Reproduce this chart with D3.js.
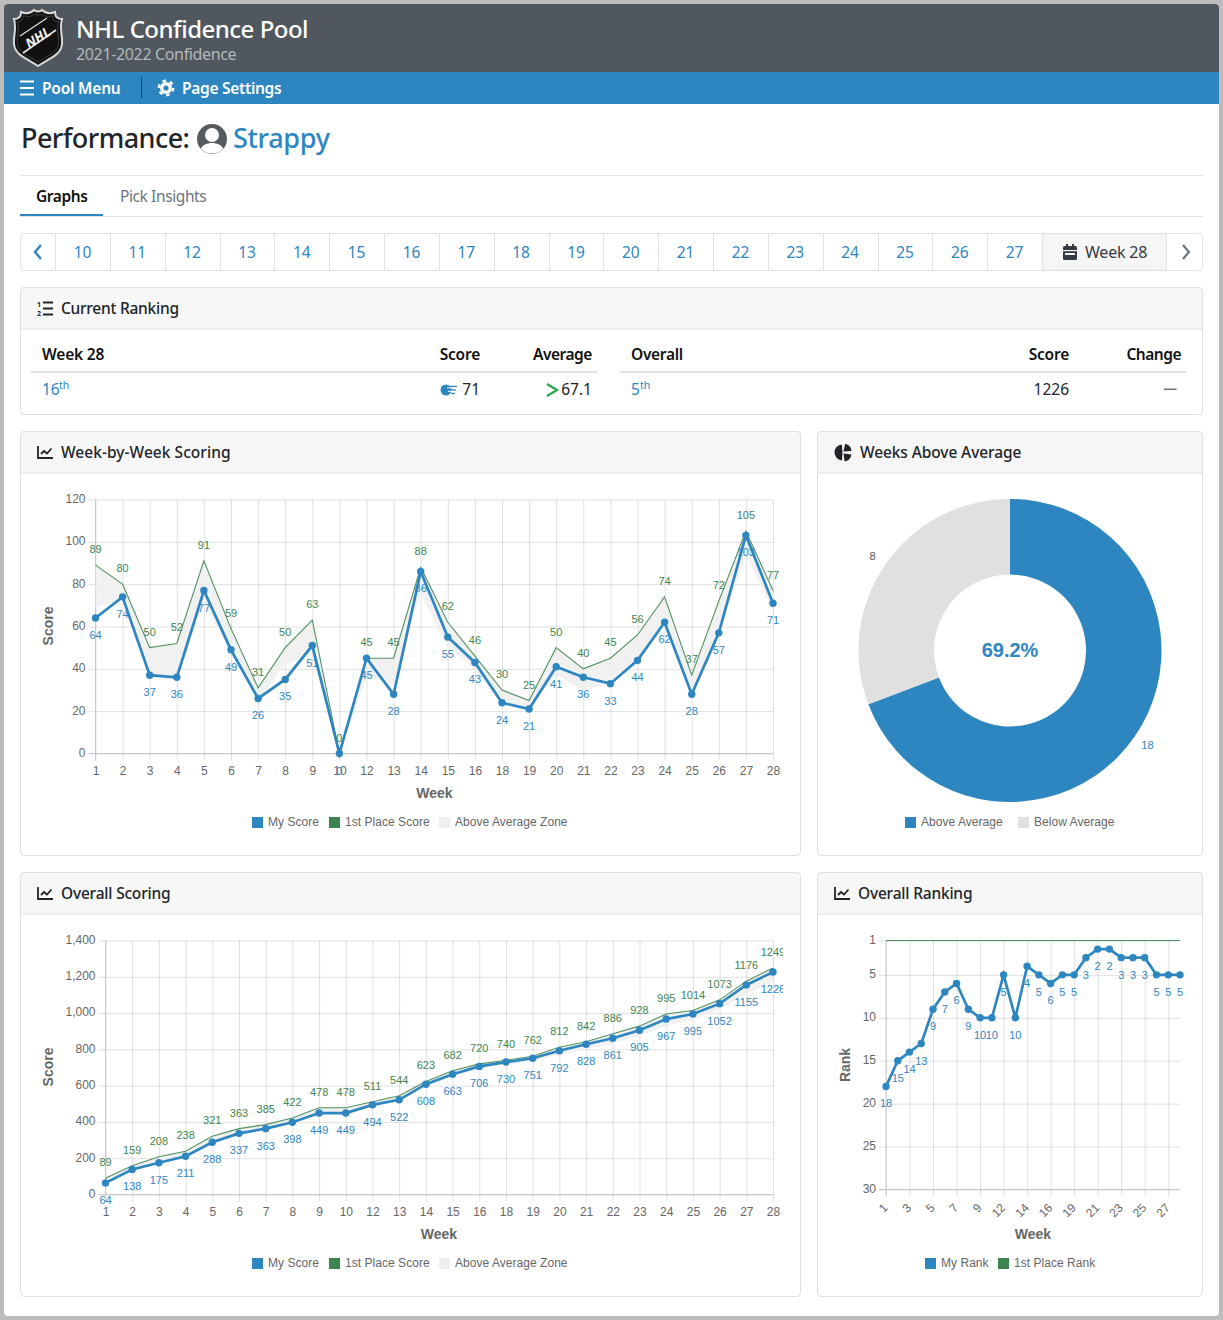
<!DOCTYPE html>
<html>
<head>
<meta charset="utf-8">
<title>NHL Confidence Pool</title>
<script src="https://cdn.jsdelivr.net/npm/d3@7"></script>
<style>
html, body { margin: 0; padding: 0; background: #bcbcbc; }
svg { display: block; }
text { font-family: "Noto Sans", sans-serif; }
.chart text { font-family: "Liberation Sans", Arial, sans-serif; }
.tick text { fill: #666; font-size: 12px; }
.tick line { stroke: #000; stroke-opacity: 0.12; }
</style>
</head>
<body>
<svg id="page" width="1223" height="1320"></svg>
<script>
var weeks = [1,2,3,4,5,6,7,8,9,10,12,13,14,15,16,18,19,20,21,22,23,24,25,26,27,28];

var myScore = [64,74,37,36,77,49,26,35,51,0,45,28,86,55,43,24,21,41,36,33,44,62,28,57,103,71];
var firstScore = [89,80,50,52,91,59,31,50,63,0,45,45,88,62,46,30,25,50,40,45,56,74,37,72,105,77];
var avgScore = [69,73,36,35,71,48,25,42,47,0,36,33,76,50,40,25,21,37,30,33,43,60,27,56,94,67.1];

var myTotal = [64,138,175,211,288,337,363,398,449,449,494,522,608,663,706,730,751,792,828,861,905,967,995,1052,1155,1226];
var firstTotal = [89,159,208,238,321,363,385,422,478,478,511,544,623,682,720,740,762,812,842,886,928,995,1014,1073,1176,1249];
var avgTotal = [69,136,172,207,281,332,357,396,446,446,482,515,597,650,692,718,738,768,800,832,875,930,962,1020,1105,1173];

var myRank = [18,15,14,13,9,7,6,9,10,10,5,10,4,5,6,5,5,3,2,2,3,3,3,5,5,5];
var firstRank = [1,1,1,1,1,1,1,1,1,1,1,1,1,1,1,1,1,1,1,1,1,1,1,1,1,1];

var aboveBelow = [18, 8];
var aboveBelowNames = ["Above Average", "Below Average"];

var pageWeeks = [10,11,12,13,14,15,16,17,18,19,20,21,22,23,24,25,26,27];

var scoreTicks = [0,20,40,60,80,100,120];
var totalTicks = [0,200,400,600,800,1000,1200,1400];
var rankTicks = [1,5,10,15,20,25,30];

var BLUE = "#2e86c1", GREEN = "#3d8550", ZONE = "#efefef", PIEGREY = "#e0e0e0", DARK = "#212529";
var BORDER = "#dfdfdf";

var svg = d3.select("#page");

function txt(x, y, s, size, color, weight, anchor, spacing) {
    return svg.append("text")
        .attr("x", x).attr("y", y)
        .attr("font-size", size)
        .attr("fill", color || DARK)
        .attr("font-weight", weight || 400)
        .attr("text-anchor", anchor || "start")
        .attr("letter-spacing", spacing || 0)
        .text(s);
}
function box(x, y, w, h, fill, stroke, r) {
    return svg.append("rect")
        .attr("x", x + 0.5).attr("y", y + 0.5)
        .attr("width", w - 1).attr("height", h - 1)
        .attr("fill", fill || "none")
        .attr("stroke", stroke || "none")
        .attr("rx", r || 0);
}
function hline(x1, x2, y, color, w) {
    svg.append("line").attr("x1", x1).attr("x2", x2).attr("y1", y).attr("y2", y)
        .attr("stroke", color).attr("stroke-width", w || 1);
}

// page background and top bars
svg.append("rect").attr("x", 4).attr("y", 4).attr("width", 1215).attr("height", 1312).attr("rx", 4).attr("fill", "#fff");
svg.append("path").attr("d", "M4 72V8a4 4 0 0 1 4-4H1215a4 4 0 0 1 4 4V72Z").attr("fill", "#50575e");
svg.append("rect").attr("x", 4).attr("y", 72).attr("width", 1215).attr("height", 32).attr("fill", BLUE);

// shield logo
var shield = svg.append("g").attr("transform", "translate(38,38)");
var shieldPath = "M-17 -26C-12 -24 -7 -25 -4 -28C-2 -26 2 -26 4 -28C7 -25 12 -24 17 -26C17 -21 19 -19 24 -19C21 -8 25 -2 24 6C23 17 12 20 0 28C-12 20 -23 17 -24 6C-25 -2 -21 -8 -24 -19C-19 -19 -17 -21 -17 -26Z";
shield.append("path").attr("d", shieldPath).attr("fill", "#111").attr("stroke", "#d8d8d8").attr("stroke-width", 2);
shield.append("path").attr("d", shieldPath).attr("fill", "none").attr("stroke", "#555").attr("stroke-width", 0.8).attr("transform", "scale(0.86)");
shield.append("line").attr("x1", -15).attr("y1", 15).attr("x2", 18).attr("y2", -8).attr("stroke", "#e4e4e4").attr("stroke-width", 1.6);
shield.append("line").attr("x1", -18).attr("y1", -2).attr("x2", 9).attr("y2", -20).attr("stroke", "#e4e4e4").attr("stroke-width", 1.2);
shield.append("text").attr("transform", "rotate(-33)").attr("text-anchor", "middle").attr("y", 4.5)
    .attr("font-size", 13.5).attr("font-weight", 700).attr("font-style", "italic").attr("fill", "#f2f2f2").text("NHL");

txt(76, 38, "NHL Confidence Pool", 24, "#fff", 500, "start", -0.5);
txt(76, 60, "2021-2022 Confidence", 16, "#b4b7ba", 400, "start", -0.35);

// nav bar
[81.5, 88, 94.5].forEach(function(y) {
    svg.append("rect").attr("x", 20).attr("y", y - 1).attr("width", 14).attr("height", 2).attr("fill", "#fff");
});
txt(42, 94, "Pool Menu", 15.5, "#fff", 600, "start", -0.2);
svg.append("line").attr("x1", 141.5).attr("x2", 141.5).attr("y1", 77).attr("y2", 98).attr("stroke", "#243f52");
svg.append("circle").attr("cx", 166).attr("cy", 88).attr("r", 6).attr("fill", "#fff");
svg.append("circle").attr("cx", 166).attr("cy", 88).attr("r", 7.2).attr("fill", "none").attr("stroke", "#fff").attr("stroke-width", 2.4).attr("stroke-dasharray", "3.6 3.94");
svg.append("circle").attr("cx", 166).attr("cy", 88).attr("r", 2.6).attr("fill", BLUE);
txt(182, 94, "Page Settings", 15.5, "#fff", 600, "start", -0.3);

// page title
txt(21, 148, "Performance:", 27, DARK, 500, "start", -0.55);
svg.append("circle").attr("cx", 212).attr("cy", 139).attr("r", 15).attr("fill", "#575a5e");
svg.append("circle").attr("cx", 212).attr("cy", 135).attr("r", 7).attr("fill", "#fff");
svg.append("path").attr("d", "M201 149C203 141 221 141 223 149C217 155 207 155 201 149Z").attr("fill", "#fff");
txt(233, 148, "Strappy", 27, BLUE, 500, "start", -0.3);
hline(20, 1203, 175.5, "#e3e5e8");

// tabs
txt(36, 202, "Graphs", 15.5, "#111", 600, "start", -0.4);
txt(120, 202, "Pick Insights", 15.5, "#6c757d", 400, "start", -0.4);
hline(20, 1203, 216.5, "#dee2e6");
svg.append("rect").attr("x", 20).attr("y", 214).attr("width", 83).attr("height", 2).attr("fill", BLUE);

// week pager
box(20, 233, 1183, 38, "#fff", "#dee2e6", 4);
svg.append("polyline").attr("points", "41,245 35,252 41,259").attr("fill", "none").attr("stroke", BLUE).attr("stroke-width", 2.4);
var pageX = d3.scaleLinear().domain([0, pageWeeks.length]).range([55, 1042]);
pageWeeks.forEach(function(w, i) {
    svg.append("line").attr("x1", Math.round(pageX(i)) + 0.5).attr("x2", Math.round(pageX(i)) + 0.5).attr("y1", 233).attr("y2", 271).attr("stroke", "#dee2e6");
    txt(pageX(i + 0.5), 258, w, 15.5, BLUE, 400, "middle", -0.1);
});
box(1042, 233.5, 125, 37, "#f6f6f7", "#dee2e6");
svg.append("rect").attr("x", 1063).attr("y", 246).attr("width", 14).attr("height", 14).attr("rx", 1.5).attr("fill", "#343a40");
svg.append("rect").attr("x", 1066).attr("y", 244).attr("width", 2).attr("height", 3).attr("fill", "#343a40");
svg.append("rect").attr("x", 1072).attr("y", 244).attr("width", 2).attr("height", 3).attr("fill", "#343a40");
svg.append("rect").attr("x", 1063).attr("y", 250).attr("width", 14).attr("height", 1.2).attr("fill", "#f6f6f7");
svg.append("rect").attr("x", 1065).attr("y", 253).attr("width", 10).attr("height", 2).attr("fill", "#f6f6f7");
txt(1085, 258, "Week 28", 16, "#343a40", 400, "start", -0.2);
svg.append("polyline").attr("points", "1183,245 1189,252 1183,259").attr("fill", "none").attr("stroke", "#6c757d").attr("stroke-width", 2.2);

function card(x, y, w, h, title, titleX, spacing) {
    box(x, y, w, h, "#fff", BORDER, 4);
    svg.append("path").attr("d", "M" + (x + 0.5) + " " + (y + 42) + "V" + (y + 4) + "a3.5 3.5 0 0 1 3.5 -3.5H" + (x + w - 4) + "a3.5 3.5 0 0 1 3.5 3.5V" + (y + 42) + "Z")
        .attr("fill", "#f7f7f7").attr("stroke", BORDER);
    txt(titleX, y + 27, title, 15.5, DARK, 500, "start", spacing);
}
function lineIcon(x, y) {
    svg.append("path").attr("d", "M" + x + " " + y + "v12h15").attr("fill", "none").attr("stroke", DARK).attr("stroke-width", 1.8);
    svg.append("path").attr("d", "M" + (x + 3) + " " + (y + 8) + "l3 -3l3 2.5l4.5 -5").attr("fill", "none").attr("stroke", DARK).attr("stroke-width", 1.8);
}

// current ranking card
card(20, 287, 1183, 128, "Current Ranking", 61, -0.25);
[302.5, 308.5, 314.5].forEach(function(y) {
    svg.append("rect").attr("x", 43).attr("y", y - 1).attr("width", 10).attr("height", 2).attr("fill", DARK);
});
svg.append("text").attr("x", 37).attr("y", 307).attr("font-size", 7).attr("font-weight", 700).attr("fill", DARK).text("1");
svg.append("text").attr("x", 37).attr("y", 316).attr("font-size", 7).attr("font-weight", 700).attr("fill", DARK).text("2");

txt(42, 360, "Week 28", 15.5, "#111", 600, "start", -0.2);
txt(480, 360, "Score", 15.5, "#111", 600, "end", -0.2);
txt(592, 360, "Average", 15.5, "#111", 600, "end", -0.45);
hline(31, 597, 372, "#dee2e6", 2);
txt(631, 360, "Overall", 15.5, "#111", 600, "start", -0.3);
txt(1069, 360, "Score", 15.5, "#111", 600, "end", -0.2);
txt(1181, 360, "Change", 15.5, "#111", 600, "end", -0.5);
hline(620, 1186, 372, "#dee2e6", 2);

txt(42, 395, "16", 15.5, BLUE, 400);
txt(59, 389, "th", 10.5, BLUE, 400);
svg.append("circle").attr("cx", 446).attr("cy", 390).attr("r", 5.5).attr("fill", BLUE);
[386.5, 390, 393.5].forEach(function(y, i) {
    svg.append("rect").attr("x", 449 + i).attr("y", y - 0.7).attr("width", 8 - i * 2).attr("height", 1.4).attr("fill", BLUE);
    svg.append("rect").attr("x", 447 + i).attr("y", y + 0.8).attr("width", 10 - i * 2).attr("height", 1).attr("fill", "#fff");
});
txt(480, 395, "71", 15.5, DARK, 400, "end");
svg.append("polyline").attr("points", "547,384 557,390 547,396").attr("fill", "none").attr("stroke", "#28a745").attr("stroke-width", 2.2);
txt(592, 395, "67.1", 15.5, DARK, 400, "end");
txt(631, 395, "5", 15.5, BLUE, 400);
txt(640, 389, "th", 10.5, BLUE, 400);
txt(1069, 395, "1226", 15.5, DARK, 400, "end");
svg.append("rect").attr("x", 1164).attr("y", 388.5).attr("width", 12.5).attr("height", 1.6).attr("fill", "#6c757d");

// chart cards
card(20, 431, 781, 425, "Week-by-Week Scoring", 61, 0.05);
lineIcon(38, 446);
card(817, 431, 386, 425, "Weeks Above Average", 860, -0.1);
var pieIcon = svg.append("g").attr("transform", "translate(842.5,452.5)");
pieIcon.append("path").attr("d", d3.arc()({ innerRadius: 0, outerRadius: 8, startAngle: 0.2, endAngle: 1.5 })).attr("fill", DARK).attr("transform", "translate(1,-1)");
pieIcon.append("path").attr("d", d3.arc()({ innerRadius: 0, outerRadius: 8, startAngle: 1.7, endAngle: 3.0 })).attr("fill", DARK).attr("transform", "translate(1,1)");
pieIcon.append("path").attr("d", d3.arc()({ innerRadius: 0, outerRadius: 8, startAngle: 3.2, endAngle: 6.2 })).attr("fill", DARK);
card(20, 872, 781, 425, "Overall Scoring", 61, -0.2);
lineIcon(38, 887);
card(817, 872, 386, 425, "Overall Ranking", 858, -0.2);
lineIcon(835, 887);

// legend entries share one look
function legend(chart, y, items) {
    items.forEach(function(d) {
        chart.append("rect").attr("x", d.x).attr("y", y - 5).attr("width", 11).attr("height", 11).attr("fill", d.color);
        chart.append("text").attr("x", d.x + 16).attr("y", y + 4).attr("font-size", 12).attr("letter-spacing", 0.04).attr("fill", "#666").text(d.name);
    });
}

function drawLineChart(o) {
    var g = svg.append("g").attr("class", "chart");
    var x = d3.scalePoint().domain(weeks).range([o.left, o.right]);
    var y = d3.scaleLinear().domain(o.yDomain).range([o.bottom, o.top]);
    var xVal = function(d, i) { return x(weeks[i]); };
    var yVal = function(d) { return y(d); };

    // grid lines come out of the axes, long inner ticks
    var yAxis = g.append("g").attr("transform", "translate(" + o.right + ",0)")
        .call(d3.axisLeft(y).tickValues(o.yTicks).tickSizeInner(o.right - o.left + 7).tickSizeOuter(0).tickPadding(3).tickFormat(o.yFormat));
    yAxis.select(".domain").remove();
    yAxis.selectAll(".tick text").attr("dy", "0.24em");
    var xAxis = g.append("g").attr("transform", "translate(0," + o.top + ")")
        .call(d3.axisBottom(x).tickValues(o.xTicks || weeks).tickSizeInner(o.bottom - o.top + 7).tickSizeOuter(0).tickPadding(o.xPad));
    xAxis.select(".domain").remove();
    if (o.rotateX) {
        xAxis.selectAll(".tick text")
            .attr("text-anchor", "end")
            .attr("dy", 0)
            .attr("transform", function() {
                var ty = +d3.select(this).attr("y");
                return "translate(2," + (ty + 9) + ") rotate(-45) translate(0," + (-ty) + ")";
            });
    }

    g.append("line").attr("x1", o.left).attr("x2", o.left).attr("y1", o.top).attr("y2", o.bottom + 7).attr("stroke", "#c9c9c9");
    g.append("line").attr("x1", o.left - 7).attr("x2", o.right).attr("y1", o.bottom).attr("y2", o.bottom).attr("stroke", "#c9c9c9");

    if (o.zone) {
        g.append("path").datum(o.first)
            .attr("fill", ZONE).attr("fill-opacity", 0.85)
            .attr("d", d3.area().x(xVal).y0(function(d, i) { return y(o.zone[i]); }).y1(yVal));
    }
    g.append("path").datum(o.first).attr("fill", "none").attr("stroke", GREEN).attr("stroke-width", 1.1).attr("stroke-opacity", 0.9)
        .attr("d", d3.line().x(xVal).y(yVal));
    g.append("path").datum(o.mine).attr("fill", "none").attr("stroke", BLUE).attr("stroke-width", 2.7)
        .attr("d", d3.line().x(xVal).y(yVal));
    g.selectAll("circle.dot").data(o.mine).enter().append("circle")
        .attr("class", "dot").attr("r", 3.7).attr("fill", BLUE)
        .attr("cx", xVal).attr("cy", yVal);

    // value labels get cut at the canvas edge like the original
    var clipId = "clip" + o.left;
    g.append("clipPath").attr("id", clipId).append("rect")
        .attr("x", o.left - 60).attr("y", o.top - 30).attr("width", o.clipRight - o.left + 60).attr("height", o.bottom - o.top + 60);
    var labels = g.append("g").attr("clip-path", "url(#" + clipId + ")").attr("font-size", 11).attr("text-anchor", "middle");
    if (o.showFirstLabels) {
        labels.selectAll("text.first").data(o.first).enter().append("text")
            .attr("class", "first").attr("fill", GREEN)
            .attr("x", xVal).attr("y", function(d) { return y(d) - 12; })
            .text(function(d) { return d; });
    }
    labels.selectAll("text.mine").data(o.mine).enter().append("text")
        .attr("class", "mine").attr("fill", BLUE)
        .attr("x", xVal).attr("y", function(d) { return y(d) + 21; })
        .text(function(d) { return d; });

    g.append("text").attr("x", o.xTitleX).attr("y", o.xTitleY).attr("text-anchor", "middle")
        .attr("font-size", 14).attr("font-weight", 700).attr("fill", "#666").text("Week");
    g.append("text").attr("transform", "translate(" + o.yTitleX + "," + o.yTitleY + ") rotate(-90)").attr("text-anchor", "middle")
        .attr("font-size", 14).attr("font-weight", 700).attr("fill", "#666").text(o.yTitle);

    legend(g, o.legendY, o.legendItems);
}

var scoreLegend = [
    { x: 252, name: "My Score", color: BLUE },
    { x: 329, name: "1st Place Score", color: GREEN },
    { x: 439, name: "Above Average Zone", color: ZONE }
];

drawLineChart({
    left: 95.5, right: 773, top: 499.5, bottom: 753.5, clipRight: 783, xPad: 6,
    yDomain: [0, 120], yTicks: scoreTicks, yFormat: d3.format(","),
    mine: myScore, first: firstScore, zone: avgScore, showFirstLabels: true,
    xTitleX: 434.5, xTitleY: 798, yTitle: "Score", yTitleX: 53, yTitleY: 626,
    legendY: 822, legendItems: scoreLegend
});

drawLineChart({
    left: 105.5, right: 773, top: 940.5, bottom: 1194.5, clipRight: 783, xPad: 6,
    yDomain: [0, 1400], yTicks: totalTicks, yFormat: d3.format(","),
    mine: myTotal, first: firstTotal, zone: avgTotal, showFirstLabels: true,
    xTitleX: 439, xTitleY: 1239, yTitle: "Score", yTitleX: 53, yTitleY: 1067,
    legendY: 1263, legendItems: scoreLegend
});

drawLineChart({
    left: 886, right: 1180, top: 940.5, bottom: 1189.5, clipRight: 1200, xPad: 3, rotateX: true,
    yDomain: [30, 1], yTicks: rankTicks, yFormat: d3.format("d"),
    xTicks: weeks.filter(function(d, i) { return i % 2 === 0; }),
    mine: myRank, first: firstRank, showFirstLabels: false,
    xTitleX: 1033, xTitleY: 1239, yTitle: "Rank", yTitleX: 850, yTitleY: 1065,
    legendY: 1263, legendItems: [
        { x: 925, name: "My Rank", color: BLUE },
        { x: 998, name: "1st Place Rank", color: GREEN }
    ]
});

// donut
var donut = svg.append("g").attr("class", "chart");
var donutMid = donut.append("g").attr("transform", "translate(1010,650.5)");
var pieData = d3.pie().sort(null)(aboveBelow);
var pieColors = [BLUE, PIEGREY];
var labelArc = d3.arc().innerRadius(167).outerRadius(167);
donutMid.selectAll("path").data(pieData).enter().append("path")
    .attr("d", d3.arc().innerRadius(76).outerRadius(151.5))
    .attr("fill", function(d, i) { return pieColors[i]; });
donutMid.selectAll("text.val").data(pieData).enter().append("text")
    .attr("class", "val")
    .attr("font-size", 11).attr("text-anchor", "middle")
    .attr("fill", function(d, i) { return i === 0 ? BLUE : "#555"; })
    .attr("transform", function(d) { return "translate(" + labelArc.centroid(d).join(",") + ")"; })
    .attr("dy", 4)
    .text(function(d) { return d.data; });
donutMid.append("text").attr("text-anchor", "middle").attr("y", 6).attr("font-size", 20).attr("font-weight", 700).attr("fill", BLUE)
    .text(d3.format(".1%")(aboveBelow[0] / d3.sum(aboveBelow)));
legend(donut, 822, [
    { x: 905, name: aboveBelowNames[0], color: BLUE },
    { x: 1018, name: aboveBelowNames[1], color: PIEGREY }
]);
</script>
</body>
</html>
